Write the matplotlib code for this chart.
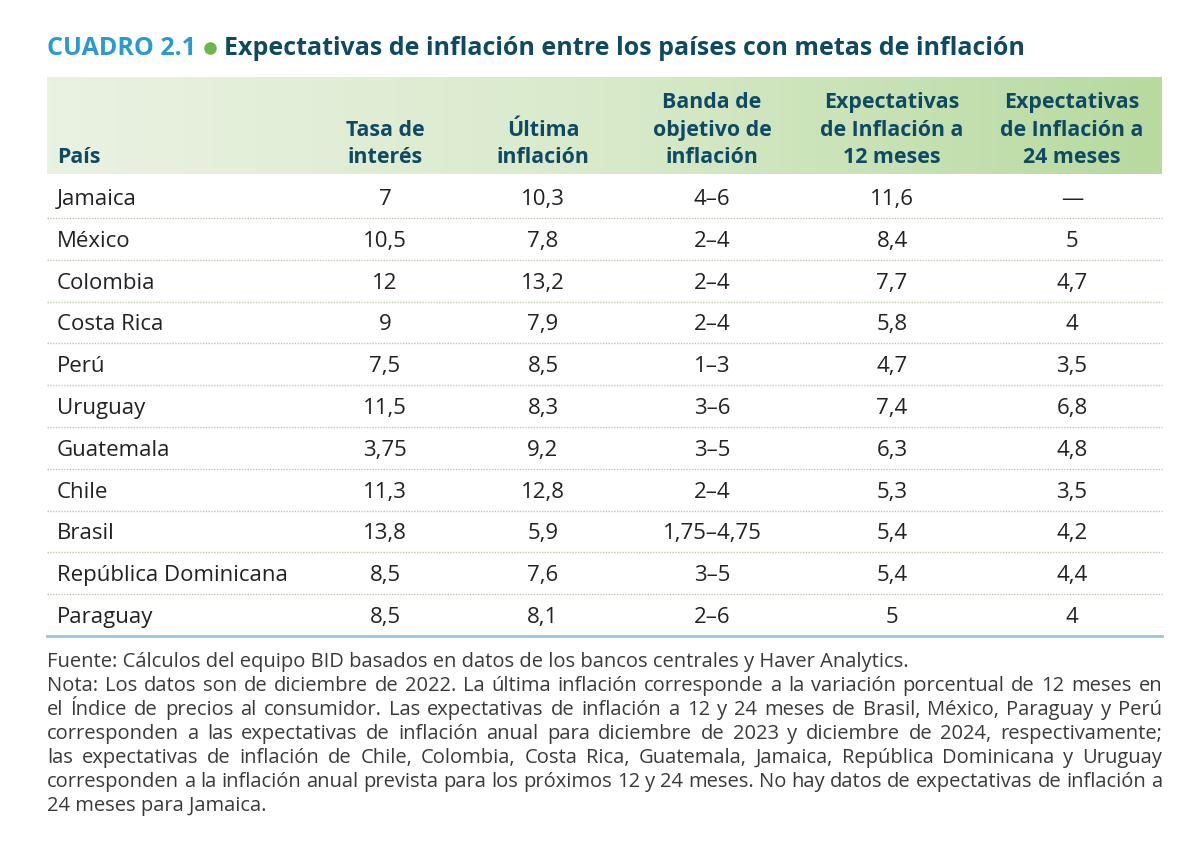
import numpy as np
import matplotlib
matplotlib.use("Agg")
import matplotlib.pyplot as plt
from matplotlib.colors import LinearSegmentedColormap

plt.rcParams['font.family'] = ['Open Sans', 'DejaVu Sans']

# table data
paises = ["Jamaica", "México", "Colombia", "Costa Rica", "Perú", "Uruguay",
          "Guatemala", "Chile", "Brasil", "República Dominicana", "Paraguay"]
tasa_interes = ["7", "10,5", "12", "9", "7,5", "11,5", "3,75", "11,3", "13,8", "8,5", "8,5"]
ultima_inflacion = ["10,3", "7,8", "13,2", "7,9", "8,5", "8,3", "9,2", "12,8", "5,9", "7,6", "8,1"]
banda_objetivo = ["4–6", "2–4", "2–4", "2–4", "1–3", "3–6", "3–5", "2–4", "1,75–4,75", "3–5", "2–6"]
expect_12m = ["11,6", "8,4", "7,7", "5,8", "4,7", "7,4", "6,3", "5,3", "5,4", "5,4", "5"]
expect_24m = ["—", "5", "4,7", "4", "3,5", "6,8", "4,8", "3,5", "4,2", "4,4", "4"]

headers = ["País", "Tasa de\ninterés", "Última\ninflación", "Banda de\nobjetivo de\ninflación",
           "Expectativas\nde Inflación a\n12 meses", "Expectativas\nde Inflación a\n24 meses"]

fuente = "Fuente: Cálculos del equipo BID basados en datos de los bancos centrales y Haver Analytics."
nota_lines = [
    "Nota: Los datos son de diciembre de 2022. La última inflación corresponde a la variación porcentual de 12 meses en",
    "el Índice de precios al consumidor. Las expectativas de inflación a 12 y 24 meses de Brasil, México, Paraguay y Perú",
    "corresponden a las expectativas de inflación anual para diciembre de 2023 y diciembre de 2024, respectivamente;",
    "las expectativas de inflación de Chile, Colombia, Costa Rica, Guatemala, Jamaica, República Dominicana y Uruguay",
    "corresponden a la inflación anual prevista para los próximos 12 y 24 meses. No hay datos de expectativas de inflación a",
    "24 meses para Jamaica.",
]

# colours
blue = "#2a9ad2"
green_dot = "#6cb64a"
teal = "#0f4a64"
body = "#222222"
foot = "#3a3a3a"

fig = plt.figure(figsize=(12, 8.5), dpi=100)
ax = fig.add_axes([0, 0, 1, 1])
ax.set_xlim(0, 1200)
ax.set_ylim(850, 0)
ax.axis("off")

left, right = 47, 1162

# title
t1 = ax.text(left, 55, "CUADRO 2.1", color=blue, fontsize=18, fontweight="bold", va="baseline")
fig.canvas.draw()
r = fig.canvas.get_renderer()
bb = t1.get_window_extent(r)
xdot = bb.x1 + 14
ax.plot([xdot], [48], "o", color=green_dot, markersize=8)
ax.text(xdot + 14, 55, "Expectativas de inflación entre los países con metas de inflación",
        color=teal, fontsize=18, fontweight="bold", va="baseline")

# header band with gradient
cmap = LinearSegmentedColormap.from_list("hdr", ["#eaf2e2", "#d9eacb", "#b7da9f"])
grad = np.linspace(0, 1, 256).reshape(1, -1)
ax.imshow(grad, cmap=cmap, extent=[left, right, 174, 77], aspect="auto", zorder=0)
ax.set_xlim(0, 1200)
ax.set_ylim(850, 0)

col_x = [57, 385, 543, 712, 892, 1072]
line_h = 27.5
hdr_bottom = 155
for i, h in enumerate(headers):
    lines = h.split("\n")
    for k, ln in enumerate(lines):
        y = hdr_bottom - (len(lines) - 1 - k) * line_h
        ax.text(col_x[i], y, ln, color=teal, fontsize=15.4, fontweight="bold",
                ha="left" if i == 0 else "center", va="center_baseline")

# rows
row_y0, row_step = 197, 41.8
columns = [paises, tasa_interes, ultima_inflacion, banda_objetivo, expect_12m, expect_24m]
n = len(paises)
for j in range(n):
    y = row_y0 + j * row_step
    for i, col in enumerate(columns):
        ax.text(col_x[i], y, col[j], color=body, fontsize=16,
                ha="left" if i == 0 else "center", va="center_baseline")
    if j < n - 1:
        ax.plot([left, right], [y + row_step / 2] * 2, color="#b9cbaa", lw=1.0,
                linestyle=(0, (1, 1)))
ax.plot([left, right], [row_y0 + (n - 0.5) * row_step] * 2, color="#9ac6dc", lw=2)

# footnotes
fs = 14.5
foot_y0, foot_step = 659, 24.1
ax.text(left, foot_y0, fuente, color=foot, fontsize=fs, va="center_baseline")


def justify(line, y):
    words = line.split(" ")
    objs = [ax.text(0, y, w, color=foot, fontsize=fs, va="center_baseline") for w in words]
    widths = [o.get_window_extent(r).width for o in objs]
    gap = (right - left - sum(widths)) / (len(words) - 1)
    x = left
    for o, w in zip(objs, widths):
        o.set_x(x)
        x += w + gap


fig.canvas.draw()
for k, ln in enumerate(nota_lines):
    y = foot_y0 + (k + 1) * foot_step
    if k < len(nota_lines) - 1:
        justify(ln, y)
    else:
        ax.text(left, y, ln, color=foot, fontsize=fs, va="center_baseline")

fig.savefig("out.png", dpi=100, facecolor="white")
